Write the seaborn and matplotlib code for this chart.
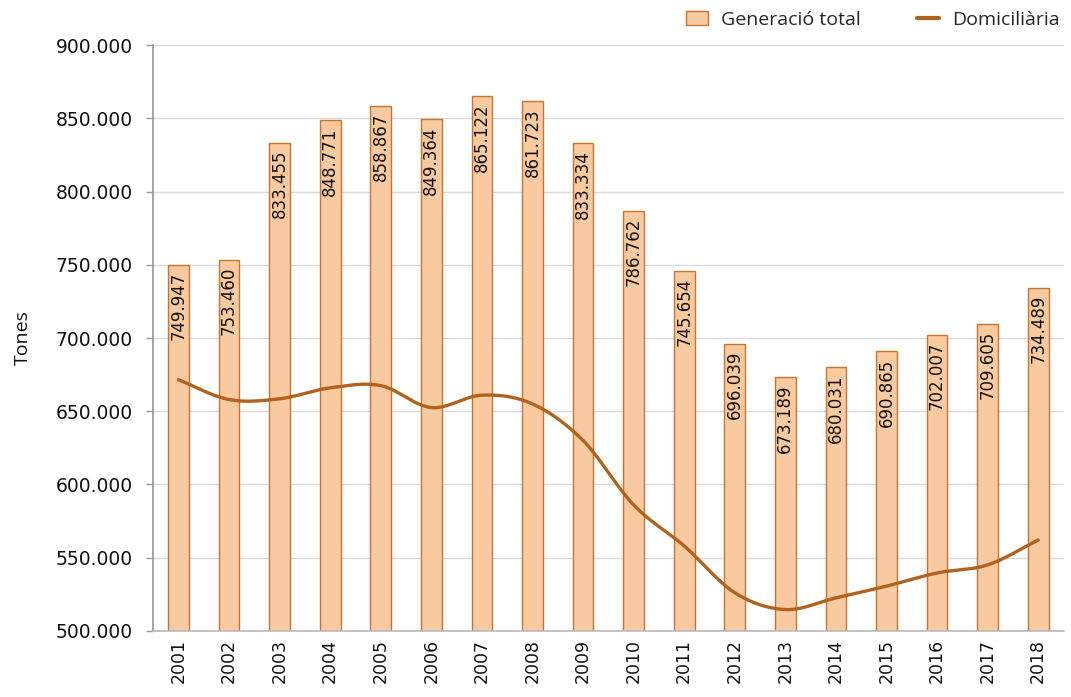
import numpy as np
import pandas as pd
import matplotlib
matplotlib.use("Agg")
import matplotlib.pyplot as plt
import seaborn as sns
from matplotlib.patches import Patch
from matplotlib.lines import Line2D

years = [str(y) for y in range(2001, 2019)]
generacio_total = [749947, 753460, 833455, 848771, 858867, 849364, 865122, 861723,
                   833334, 786762, 745654, 696039, 673189, 680031, 690865, 702007,
                   709605, 734489]
domiciliaria = [671500, 658000, 658500, 666000, 667500, 652500, 661000, 655000,
                630000, 586000, 558000, 526000, 514500, 522500, 530500, 539500,
                545000, 562000]
bar_labels = ["749.947", "753.460", "833.455", "848.771", "858.867", "849.364",
              "865.122", "861.723", "833.334", "786.762", "745.654", "696.039",
              "673.189", "680.031", "690.865", "702.007", "709.605", "734.489"]
yticks = [500000, 550000, 600000, 650000, 700000, 750000, 800000, 850000, 900000]
ytick_labels = ["500.000", "550.000", "600.000", "650.000", "700.000", "750.000",
                "800.000", "850.000", "900.000"]

BAR_FILL = "#F9C9A0"
BAR_EDGE = "#C47532"
LINE_COL = "#B0621E"

sns.set_theme(style="white")
plt.rcParams['font.family'] = ['DejaVu Sans']

df = pd.DataFrame({"year": years, "total": generacio_total, "dom": domiciliaria})

fig = plt.figure(figsize=(10.71, 6.97), dpi=100)
ax = fig.add_axes([0.143, 0.095, 0.850, 0.840])

sns.barplot(data=df, x="year", y="total", ax=ax, color=BAR_FILL, width=0.41,
            edgecolor=BAR_EDGE, linewidth=1.0, saturation=1, zorder=2)

# smooth line (Catmull-Rom through the data points)
xs = np.arange(len(domiciliaria), dtype=float)
ys = np.array(domiciliaria, dtype=float)
px = np.concatenate([[2 * xs[0] - xs[1]], xs, [2 * xs[-1] - xs[-2]]])
py = np.concatenate([[2 * ys[0] - ys[1]], ys, [2 * ys[-1] - ys[-2]]])
sx, sy = [], []
for i in range(1, len(px) - 2):
    t = np.linspace(0, 1, 30, endpoint=(i == len(px) - 3))
    for P, out in ((px, sx), (py, sy)):
        p0, p1, p2, p3 = P[i - 1], P[i], P[i + 1], P[i + 2]
        out.extend(0.5 * ((2 * p1) + (-p0 + p2) * t + (2 * p0 - 5 * p1 + 4 * p2 - p3) * t ** 2
                          + (-p0 + 3 * p1 - 3 * p2 + p3) * t ** 3))
sns.lineplot(x=sx, y=sy, ax=ax, color=LINE_COL, linewidth=2.4, sort=False, zorder=4)

for i, (v, lab) in enumerate(zip(generacio_total, bar_labels)):
    ax.annotate(lab, (i, v), xytext=(0, -5), textcoords="offset points",
                rotation=90, ha="center", va="top", fontsize=12, color="#111111",
                zorder=5)

ax.set_ylim(500000, 900000)
ax.set_xlim(-0.5, len(years) - 0.5)
ax.set_yticks(yticks)
ax.set_yticklabels(ytick_labels, fontsize=13.5, color="#111111")
ax.set_xticks(range(len(years)))
ax.set_xticklabels(years, rotation=90, fontsize=12.5, color="#111111")
ax.tick_params(axis="y", which="both", left=True, length=5, width=1, color="#999999", pad=9.5)
ax.tick_params(axis="x", length=0, pad=6)
ax.yaxis.grid(True, color="#D9D9D9", linewidth=1, zorder=0)
ax.set_axisbelow(True)
ax.set_xlabel("")
ax.set_ylabel("Tones", fontsize=14, color="#111111", labelpad=17,
              family="Open Sans")
for s in ["top", "right"]:
    ax.spines[s].set_visible(False)
ax.spines["left"].set_color("#999999")
ax.spines["bottom"].set_color("#BBBBBB")

handles = [Patch(facecolor=BAR_FILL, edgecolor=BAR_EDGE, linewidth=1),
           Line2D([0], [0], color=LINE_COL, linewidth=3)]
fig.legend(handles, ["Generació total", "Domiciliària"], loc="upper right",
           bbox_to_anchor=(1.006, 1.01), ncol=2, frameon=False,
           handlelength=1.1, columnspacing=2.9, handletextpad=0.7,
           prop={"family": "Open Sans", "size": 14})

fig.savefig("out.png", dpi=100, facecolor="white")
